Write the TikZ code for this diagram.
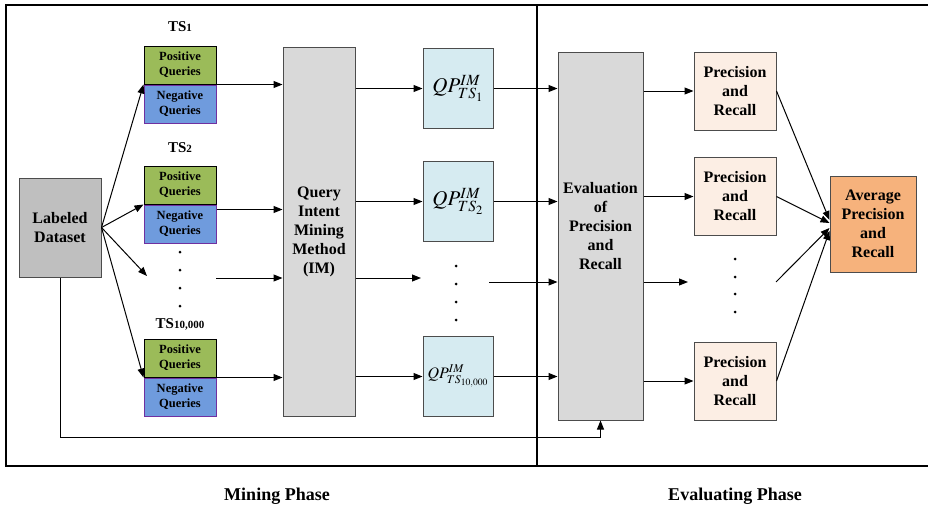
\documentclass[tikz,border=0pt]{standalone}
\usepackage{mathptmx}
\usepackage{fontspec}
\setmainfont{Liberation Serif}
\usepackage{tikz}
\usetikzlibrary{arrows.meta,positioning}

\definecolor{posgreen}{HTML}{9BBB59}
\definecolor{negblue}{HTML}{6F9BDD}
\definecolor{negedge}{HTML}{7030A0}
\definecolor{qpblue}{HTML}{D6EBF1}
\definecolor{prcream}{HTML}{FCEEE4}
\definecolor{avgorange}{HTML}{F6B27C}

\newcommand{\bigtxt}{\fontsize{16}{19}\selectfont\bfseries}
\newcommand{\smalltxt}{\fontsize{12.5}{15}\selectfont\bfseries}
\newcommand{\tslabel}[1]{\fontsize{15}{15}\selectfont\bfseries TS{\fontsize{11}{11}\selectfont #1}}

\begin{document}
\begin{tikzpicture}[x=1pt,y=-1pt,
  blk/.style={draw=black!70,line width=1pt,inner sep=0pt,align=center,font=\bigtxt},
  posbox/.style={blk,draw=black,fill=posgreen,minimum width=72pt,minimum height=38pt,font=\smalltxt},
  negbox/.style={blk,draw=negedge,fill=negblue,minimum width=72pt,minimum height=38pt,font=\smalltxt},
  qpbox/.style={blk,fill=qpblue,minimum width=70pt,minimum height=80pt,font=\fontsize{21}{21}\selectfont},
  prbox/.style={blk,fill=prcream,minimum width=82pt,minimum height=78pt},
  arr/.style={-{Triangle[length=9pt,width=7pt]},line width=1pt},
  dot/.style={circle,fill=black,inner sep=0pt,minimum size=3pt}]
\useasboundingbox (0,0) rectangle (928,509);
% phase frames
\draw[line width=1.3pt] (928,5) -- (6,5) -- (6,466) -- (928,466);
\draw[line width=1.3pt] (537,5) -- (537,466);
%
\node[blk,fill=gray!50,minimum width=82pt,minimum height=99pt] (data) at (60,227.5) {Labeled\\Dataset};
%
\node (ts1) at (180,27) {\tslabel{1}};
\node[posbox] (pos1) at (180,65) {Positive\\Queries};
\node[negbox,below=0pt of pos1] (neg1) {Negative\\Queries};
\node (ts2) at (180,148) {\tslabel{2}};
\node[posbox] (pos2) at (180,185) {Positive\\Queries};
\node[negbox,below=0pt of pos2] (neg2) {Negative\\Queries};
\node (ts3) at (180,324) {\tslabel{10,000}};
\node[posbox] (pos3) at (180,358) {Positive\\Queries};
\node[negbox,below=0pt of pos3] (neg3) {Negative\\Queries};
\foreach \y [count=\i] in {252,270,288,306}
  \node[dot] (tsd\i) at (180,\y) {};
%
\node[blk,fill=gray!30,minimum width=72pt,minimum height=369pt] (im) at (319,231.5) {Query\\Intent\\Mining\\Method\\(IM)};
%
\node[qpbox] (qp1) at (458,88.5) {$QP^{IM}_{TS_1}$};
\node[qpbox] (qp2) at (458,201.5) {$QP^{IM}_{TS_2}$};
\node[qpbox,font=\fontsize{16}{16}\selectfont] (qp3) at (458,376.5) {$QP^{IM}_{TS_{10,000}}$};
\foreach \y [count=\i] in {266,284,302,320}
  \node[dot] (qpd\i) at (456,\y) {};
%
\node[blk,fill=gray!30,minimum width=85pt,minimum height=368pt] (eval) at (600.5,236) {};
\node[font=\bigtxt,align=center] (evaltxt) at (600.5,226) {Evaluation\\of\\Precision\\and\\Recall};
%
\node[prbox] (pr1) at (735,91) {Precision\\and\\Recall};
\node[prbox] (pr2) at (735,196.5) {Precision\\and\\Recall};
\node[prbox] (pr3) at (735,381) {Precision\\and\\Recall};
\foreach \y [count=\i] in {259,277,294,312}
  \node[dot] (prd\i) at (735,\y) {};
%
\node[blk,fill=avgorange,minimum width=86pt,minimum height=96pt] (avg) at (873,224) {Average\\Precision\\and\\Recall};
%
\coordinate (tsdin) at (147,276);
\coordinate (tsdout) at (216,278);
\coordinate (qpdin) at (421,278);
\coordinate (qpdout) at (489,282);
\coordinate (prdin) at (688,282);
\coordinate (prdout) at (776,282);
%
\draw[arr] (data.east) -- (pos1.south west);
\draw[arr] (data.east) -- (pos2.south west);
\draw[arr] (data.east) -- (tsdin);
\draw[arr] (data.east) -- (pos3.south west);
%
\draw[arr] (neg1.north east) -- (neg1.north east -| im.west);
\draw[arr] ([yshift=-5pt]neg2.north east) -- ([yshift=-5pt]neg2.north east -| im.west);
\draw[arr] (tsdout) -- (tsdout -| im.west);
\draw[arr] (neg3.north east) -- (neg3.north east -| im.west);
%
\draw[arr] (qp1.west -| im.east) -- (qp1.west);
\draw[arr] (qp2.west -| im.east) -- (qp2.west);
\draw[arr] (im.east |- qpdin) -- (qpdin);
\draw[arr] (qp3.west -| im.east) -- (qp3.west);
%
\draw[arr] (qp1.east) -- (qp1.east -| eval.west);
\draw[arr] (qp2.east) -- (qp2.east -| eval.west);
\draw[arr] (qpdout) -- (qpdout -| eval.west);
\draw[arr] (qp3.east) -- (qp3.east -| eval.west);
%
\draw[arr] (pr1.west -| eval.east) -- (pr1.west);
\draw[arr] (pr2.west -| eval.east) -- (pr2.west);
\draw[arr] (eval.east |- prdin) -- (prdin);
\draw[arr] (pr3.west -| eval.east) -- (pr3.west);
%
\draw[arr] (pr1.east) -- ([yshift=4pt]avg.west);
\draw[arr] (pr2.east) -- ([yshift=1pt]avg.west);
\draw[arr] (prdout) -- ([yshift=-4pt]avg.west);
\draw[arr] (pr3.east) -- ([yshift=-7pt]avg.west);
% dataset fed to the evaluation
\draw[arr] (data.south) |- ([yshift=-17pt]eval.south) -- (eval.south);
%
\node[font=\fontsize{18}{18}\selectfont\bfseries] (mining) at (277,496) {Mining Phase};
\node[font=\fontsize{18}{18}\selectfont\bfseries] (evaluating) at (735,496) {Evaluating Phase};
\end{tikzpicture}
\end{document}
